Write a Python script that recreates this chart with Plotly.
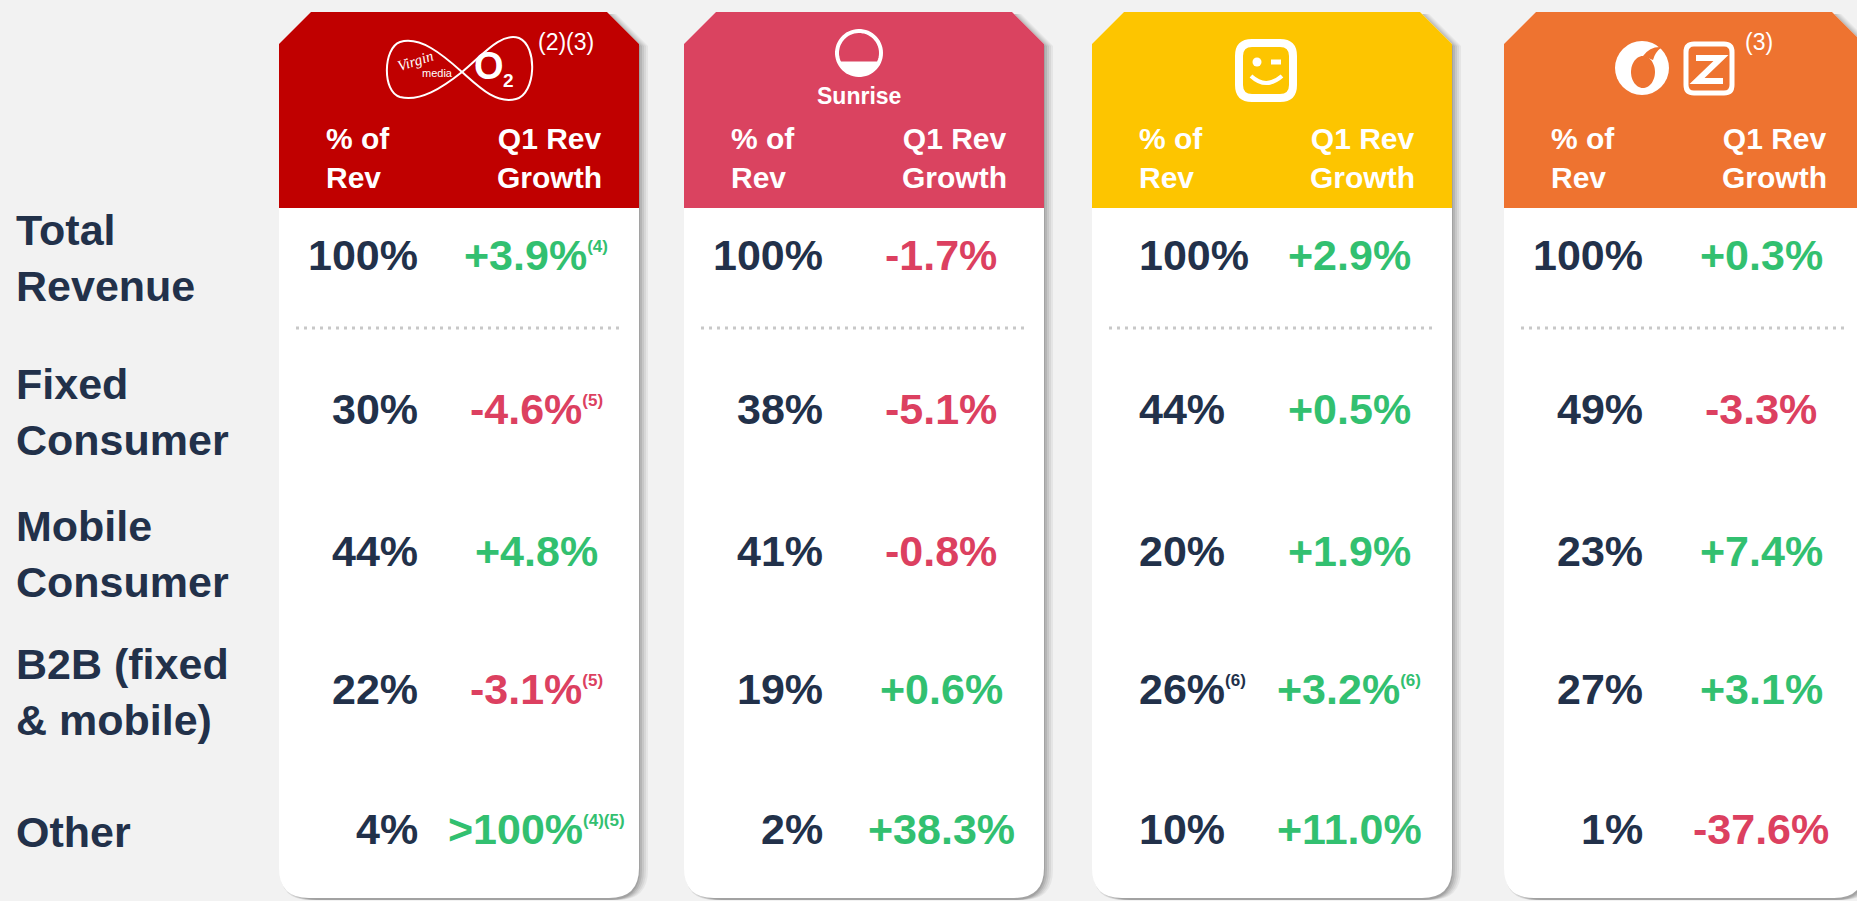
import numpy as np
import plotly.graph_objects as go

# ---- data ----
operators = ["Virgin Media O2", "Sunrise", "Telenet", "VodafoneZiggo"]
header_notes = ["(2)(3)", "", "", "(3)"]
row_labels = ["Total<br>Revenue", "Fixed<br>Consumer", "Mobile<br>Consumer",
              "B2B (fixed<br>& mobile)", "Other"]

vmo2_share = [100, 30, 44, 22, 4]
vmo2_growth = ["+3.9%", "-4.6%", "+4.8%", "-3.1%", ">100%"]
vmo2_share_notes = ["", "", "", "", ""]
vmo2_growth_notes = ["(4)", "(5)", "", "(5)", "(4)(5)"]

sunrise_share = [100, 38, 41, 19, 2]
sunrise_growth = ["-1.7%", "-5.1%", "-0.8%", "+0.6%", "+38.3%"]
sunrise_share_notes = ["", "", "", "", ""]
sunrise_growth_notes = ["", "", "", "", ""]

telenet_share = [100, 44, 20, 26, 10]
telenet_growth = ["+2.9%", "+0.5%", "+1.9%", "+3.2%", "+11.0%"]
telenet_share_notes = ["", "", "", "(6)", ""]
telenet_growth_notes = ["", "", "", "(6)", ""]

vz_share = [100, 49, 23, 27, 1]
vz_growth = ["+0.3%", "-3.3%", "+7.4%", "+3.1%", "-37.6%"]
vz_share_notes = ["", "", "", "", ""]
vz_growth_notes = ["", "", "", "", ""]

shares = [vmo2_share, sunrise_share, telenet_share, vz_share]
growths = [vmo2_growth, sunrise_growth, telenet_growth, vz_growth]
share_notes = [vmo2_share_notes, sunrise_share_notes, telenet_share_notes, vz_share_notes]
growth_notes = [vmo2_growth_notes, sunrise_growth_notes, telenet_growth_notes, vz_growth_notes]

# ---- layout / style ----
W, H = 1857, 901
BG = "#F2F2F2"
NAVY = "#22314A"
GREEN = "#32C070"
RED = "#DC4060"
HEAD_COLORS = ["#C00000", "#DA4360", "#FDC500", "#EE7330"]
FONT = "Liberation Sans, Arial, sans-serif"

CARD_X = [279, 684, 1092, 1504]
CARD_W = 360
CARD_TOP, HEAD_BOT, CARD_BOT = 12, 208, 898
CHAMFER, RADIUS = 32, 30
ROW_Y = [255, 409, 551, 689, 829]
SEP_Y = 328
PCT_ALIGN = ["right", "right", "left", "right"]


def card_path(x0, dy=0):
    x1 = x0 + CARD_W
    y0, y1 = CARD_TOP + dy, CARD_BOT + dy
    c, r = CHAMFER, RADIUS
    return (f"M {x0},{y0 + c} L {x0 + c},{y0} L {x1 - c},{y0} L {x1},{y0 + c} "
            f"L {x1},{y1 - r} Q {x1},{y1} {x1 - r},{y1} L {x0 + r},{y1} "
            f"Q {x0},{y1} {x0},{y1 - r} Z")


def head_path(x0):
    x1 = x0 + CARD_W
    c = CHAMFER
    return (f"M {x0},{CARD_TOP + c} L {x0 + c},{CARD_TOP} L {x1 - c},{CARD_TOP} "
            f"L {x1},{CARD_TOP + c} L {x1},{HEAD_BOT} L {x0},{HEAD_BOT} Z")


def poly(pts, close=True):
    s = "M " + " L ".join(f"{x:.1f},{y:.1f}" for x, y in pts)
    return s + (" Z" if close else "")


def arc_pts(cx, cy, rx, ry, a0, a1, n=60):
    t = np.linspace(a0, a1, n)
    return list(zip(cx + rx * np.cos(t), cy + ry * np.sin(t)))


def rrect(x0, y0, x1, y1, r):
    return (f"M {x0 + r},{y0} L {x1 - r},{y0} Q {x1},{y0} {x1},{y0 + r} "
            f"L {x1},{y1 - r} Q {x1},{y1} {x1 - r},{y1} L {x0 + r},{y1} "
            f"Q {x0},{y1} {x0},{y1 - r} L {x0},{y0 + r} Q {x0},{y0} {x0 + r},{y0} Z")


def sup(note, color):
    if not note:
        return ""
    return f'<sup><span style="font-size:17px;color:{color}">{note}</span></sup>'


fig = go.Figure()
fig.add_trace(go.Scatter(x=[0, W], y=[0, H], mode="markers",
                         marker=dict(opacity=0), hoverinfo="skip", showlegend=False))

shapes = []
ann = []

for i, x0 in enumerate(CARD_X):
    # soft shadow on the right
    for d, a in [(9, 0.05), (7, 0.06), (5, 0.07), (3, 0.09), (1, 0.1)]:
        shapes.append(dict(type="path", path=card_path(x0 + d, dy=2), xref="x", yref="y",
                           fillcolor=f"rgba(0,0,0,{a})", line=dict(width=0)))
    shapes.append(dict(type="path", path=card_path(x0), xref="x", yref="y",
                       fillcolor="white", line=dict(width=0)))
    shapes.append(dict(type="path", path=head_path(x0), xref="x", yref="y",
                       fillcolor=HEAD_COLORS[i], line=dict(width=0)))
    # dotted separator under total revenue
    shapes.append(dict(type="line", x0=x0 + 17, x1=x0 + CARD_W - 17, y0=SEP_Y, y1=SEP_Y,
                       xref="x", yref="y", line=dict(color="#C8C8C8", width=3, dash="3px,5px")))

    # column headers
    ann.append(dict(x=x0 + 45, y=158, text="% of<br>Rev", xanchor="left", align="left",
                    font=dict(size=30, color="white", family=FONT, weight="bold")))
    ann.append(dict(x=x0 + 270, y=158, text="Q1 Rev<br>Growth", xanchor="center", align="center",
                    font=dict(size=30, color="white", family=FONT, weight="bold")))

    # values
    for j, y in enumerate(ROW_Y):
        txt = f"{shares[i][j]}%" + sup(share_notes[i][j], NAVY)
        if PCT_ALIGN[i] == "right":
            ann.append(dict(x=x0 + 141, y=y, text=txt, xanchor="right",
                            font=dict(size=43, color=NAVY, family=FONT, weight="bold")))
        else:
            ann.append(dict(x=x0 + 45, y=y, text=txt, xanchor="left",
                            font=dict(size=43, color=NAVY, family=FONT, weight="bold")))
        g = growths[i][j]
        col = RED if g.startswith("-") else GREEN
        ann.append(dict(x=x0 + 257, y=y, text=g + sup(growth_notes[i][j], col), xanchor="center",
                        font=dict(size=43, color=col, family=FONT, weight="bold")))

    if header_notes[i]:
        ann.append(dict(x=x0 + (287 if i == 0 else 255), y=42, text=header_notes[i], xanchor="center",
                        font=dict(size=23, color="white", family=FONT)))

# row labels
for j, y in enumerate(ROW_Y):
    ann.append(dict(x=14, y=y + 3, text=row_labels[j], xanchor="left", align="left",
                    font=dict(size=43, color=NAVY, family=FONT, weight="bold")))

# ---- logos (rough line drawings) ----
WHITE_LINE = dict(color="white", width=2)
# Virgin Media O2: infinity loop
inf = ("M 462,72 C 442,54 420,36 400,42 C 383,48 382,92 400,97 C 420,102 442,88 462,72 "
       "C 482,56 500,32 519,38 C 538,46 536,94 516,99 C 496,104 480,88 462,72")
shapes.append(dict(type="path", path=inf, xref="x", yref="y", line=WHITE_LINE))
ann.append(dict(x=415, y=61, text="<i>Virgin</i>", textangle=-18, xanchor="center",
                font=dict(size=15, color="white", family="Liberation Serif")))
ann.append(dict(x=437, y=73, text="media", xanchor="center",
                font=dict(size=11, color="white", family=FONT)))
ann.append(dict(x=489, y=66, text="O", xanchor="center",
                font=dict(size=38, color="white", family=FONT, weight="bold")))
ann.append(dict(x=508, y=80, text="2", xanchor="center",
                font=dict(size=19, color="white", family=FONT, weight="bold")))

# Sunrise: ring with filled lower segment
cx, cy, r = 859, 53, 22
shapes.append(dict(type="path", path=poly(arc_pts(cx, cy, r, r, 0, 2 * np.pi)),
                   xref="x", yref="y", line=dict(color="white", width=4)))
a = np.arcsin(9 / r)
shapes.append(dict(type="path", path=poly(arc_pts(cx, cy, r, r, a, np.pi - a)),
                   xref="x", yref="y", fillcolor="white", line=dict(color="white", width=1)))
ann.append(dict(x=859, y=96, text="Sunrise", xanchor="center",
                font=dict(size=23, color="white", family=FONT, weight="bold")))

# Telenet: winking square face
shapes.append(dict(type="path", path=rrect(1239, 43, 1293, 98, 13), xref="x", yref="y",
                   line=dict(color="white", width=8)))
shapes.append(dict(type="circle", x0=1252.5, x1=1261.5, y0=57.5, y1=66.5, xref="x", yref="y",
                   fillcolor="white", line=dict(width=0)))
shapes.append(dict(type="line", x0=1271, x1=1281, y0=62, y1=62, xref="x", yref="y",
                   line=dict(color="white", width=5)))
shapes.append(dict(type="path", path="M 1251,76 Q 1266,90 1282,76", xref="x", yref="y",
                   line=dict(color="white", width=4)))

# VodafoneZiggo
shapes.append(dict(type="circle", x0=1615, x1=1669, y0=41, y1=95, xref="x", yref="y",
                   fillcolor="white", line=dict(width=0)))
shapes.append(dict(type="path", path=poly(arc_pts(1643, 72, 12, 16, 0, 2 * np.pi)),
                   xref="x", yref="y", fillcolor=HEAD_COLORS[3], line=dict(width=0)))
shapes.append(dict(type="path", path="M 1643,56 Q 1650,46 1662,47 Q 1655,52 1653,60 Z",
                   xref="x", yref="y", fillcolor=HEAD_COLORS[3], line=dict(width=0)))
shapes.append(dict(type="path", path=rrect(1686, 44, 1732, 93, 8), xref="x", yref="y",
                   line=dict(color="white", width=5)))
shapes.append(dict(type="path", path="M 1696,58 L 1721,58 L 1697,81 L 1723,81", xref="x", yref="y",
                   line=dict(color="white", width=6)))

for a_ in ann:
    a_.setdefault("xref", "x")
    a_.setdefault("yref", "y")
    a_.setdefault("yanchor", "middle")
    a_["showarrow"] = False

fig.update_layout(
    width=W, height=H,
    margin=dict(l=0, r=0, t=0, b=0),
    paper_bgcolor=BG, plot_bgcolor=BG,
    shapes=shapes, annotations=ann,
    xaxis=dict(range=[0, W], visible=False, fixedrange=True),
    yaxis=dict(range=[H, 0], visible=False, fixedrange=True),
    showlegend=False,
)

# drop the browser's default 8px body margin so the figure fills the window
fig.write_html("out.html", config={"displayModeBar": False},
               post_script="document.body.style.margin='0';document.body.style.background='%s';" % BG)
